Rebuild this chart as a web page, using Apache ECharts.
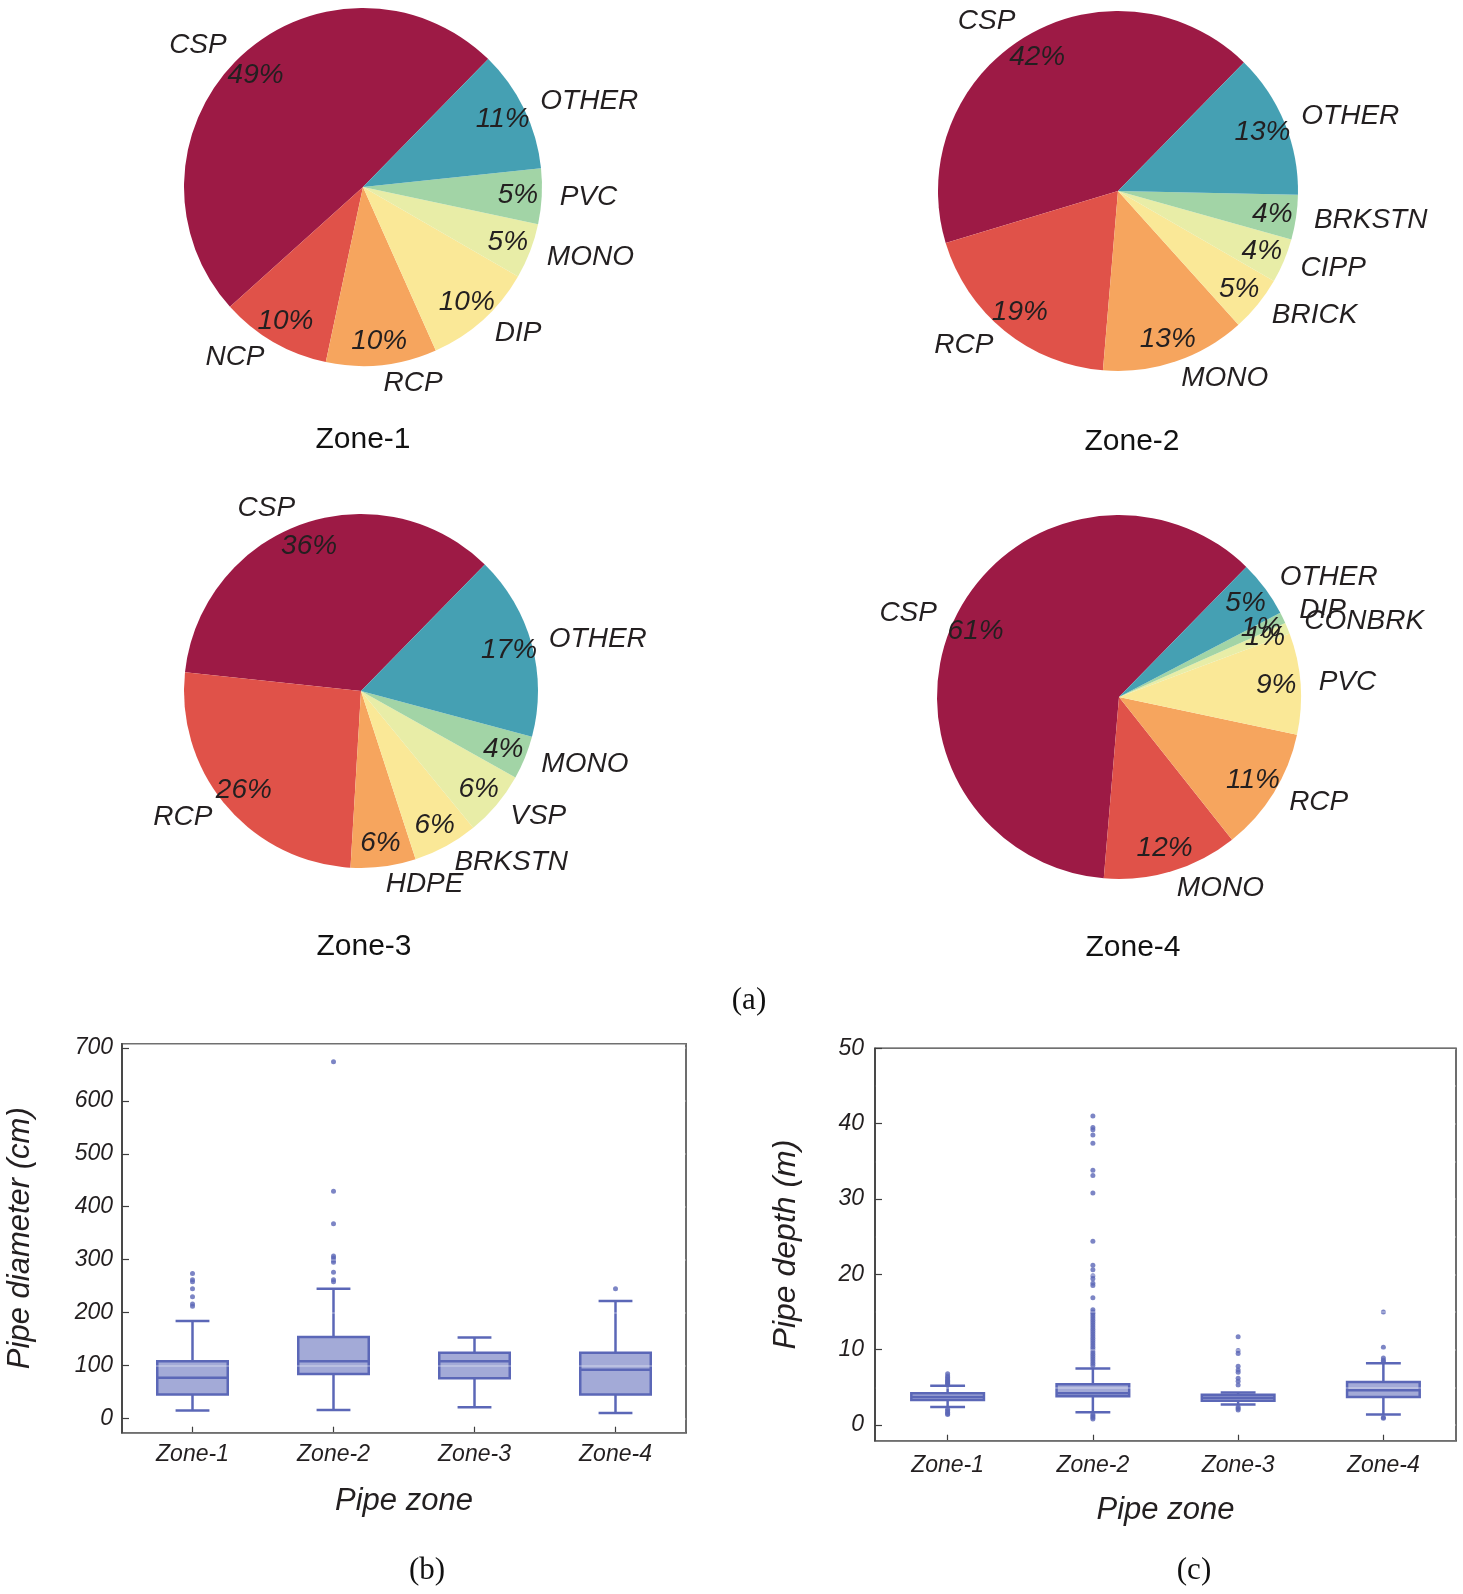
<!DOCTYPE html>
<html>
<head>
<meta charset="utf-8">
<script src="https://cdn.jsdelivr.net/npm/echarts@6/dist/echarts.min.js"></script>
<style>
  html, body { margin: 0; padding: 0; background: #ffffff; }
  #chart { width: 1463px; height: 1594px; }
</style>
</head>
<body>
<div id="chart"></div>
<script>
// ---------------- data ----------------
const pieColors = ['#9D1A45', '#E05249', '#F6A55E', '#FAE897', '#E8EDA7', '#A2D4A6', '#45A0B3'];

const zone1Names = ['CSP', 'NCP', 'RCP', 'DIP', 'MONO', 'PVC', 'OTHER'];
const zone1Pct   = [49, 10, 10, 10, 5, 5, 11];
const zone2Names = ['CSP', 'RCP', 'MONO', 'BRICK', 'CIPP', 'BRKSTN', 'OTHER'];
const zone2Pct   = [42, 19, 13, 5, 4, 4, 13];
const zone3Names = ['CSP', 'RCP', 'HDPE', 'BRKSTN', 'VSP', 'MONO', 'OTHER'];
const zone3Pct   = [36, 26, 6, 6, 6, 4, 17];
const zone4Names = ['CSP', 'MONO', 'RCP', 'PVC', 'CONBRK', 'DIP', 'OTHER'];
const zone4Pct   = [61, 12, 11, 9, 1, 1, 5];

const zoneTitles = ['Zone-1', 'Zone-2', 'Zone-3', 'Zone-4'];
const boxCategories = ['Zone-1', 'Zone-2', 'Zone-3', 'Zone-4'];

// [lower whisker, Q1, median, Q3, upper whisker]
const diameterStats = [
  [15, 45, 77, 108, 184],
  [16, 84, 108, 154, 245],
  [21, 76, 108, 124, 153],
  [10, 45, 92, 124, 222]
];
const diameterOutliers1 = [274, 262, 258, 245, 230, 216, 212];
const diameterOutliers2 = [674, 429, 368, 307, 303, 299, 295, 276, 262, 258];
const diameterOutliers3 = [];
const diameterOutliers4 = [245];

const depthStats = [
  [2.4, 3.3, 3.7, 4.2, 5.2],
  [1.7, 3.8, 4.2, 5.4, 7.5],
  [2.7, 3.2, 3.6, 4.0, 4.3],
  [1.4, 3.7, 4.6, 5.7, 8.2]
];
const depthOutliers1 = [6.8, 6.5, 6.3, 6.1, 5.9, 5.8, 5.6, 5.5, 5.3, 2.1, 1.9, 1.7, 1.5, 1.4];
const depthOutliers2 = [41.0, 39.5, 39.2, 38.5, 37.4, 33.8, 33.1, 30.8, 24.4, 21.2, 20.6, 19.8, 19.4, 18.8, 18.5, 16.9,
  15.3, 15.0, 14.8, 14.5, 14.2, 13.9, 13.6, 13.3, 13.0, 12.7, 12.4, 12.1, 11.8, 11.5, 11.2, 10.9, 10.6, 10.3, 10.0,
  9.7, 9.4, 9.1, 8.8, 8.5, 8.2, 7.9, 1.4, 1.2, 1.0, 0.8];
const depthOutliers3 = [11.7, 9.9, 9.5, 7.8, 7.3, 7.0, 6.2, 5.8, 5.3, 2.4, 2.2, 2.0];
const depthOutliers4 = [15.0, 10.3, 8.9, 8.6, 8.4, 1.0, 0.9];

// ---------------- styles ----------------
const TXT = '#231f20';
const FONT = '"Liberation Sans", Arial, Helvetica, sans-serif';
const SERIF = '"Liberation Serif", "Times New Roman", serif';
const BOX_STROKE = '#5B67B7';
const BOX_FILL = 'rgba(91,103,183,0.56)';
const FRAME = '#3e3e3e';

function pieSeries(center, R, names, pcts) {
  const data = names.map((n, i) => ({ name: n, value: pcts[i], itemStyle: { color: pieColors[i] } }));
  const ghost = names.map((n, i) => ({ name: n, value: pcts[i], itemStyle: { color: 'rgba(0,0,0,0)' } }));
  const labelFont = { fontFamily: FONT, fontStyle: 'italic', fontSize: 28, color: TXT };
  return [
    {
      type: 'pie', center: center, radius: [0, R], startAngle: 45.6, clockwise: false,
      avoidLabelOverlap: false, silent: true, animation: false,
      data: data,
      label: Object.assign({ show: true, position: 'outside', formatter: '{b}', distanceToLabelLine: 0 }, labelFont),
      labelLine: { show: false, length: R * 0.1, length2: 0 },
      labelLayout: { hideOverlap: false },
      emphasis: { disabled: true }
    },
    {
      type: 'pie', center: center, radius: [R * 0.7, R], startAngle: 45.6, clockwise: false,
      avoidLabelOverlap: false, silent: true, animation: false,
      data: ghost,
      label: Object.assign({ show: true, position: 'inside', formatter: '{c}%' }, labelFont),
      labelLine: { show: false },
      labelLayout: { hideOverlap: false },
      emphasis: { disabled: true }
    }
  ];
}

function boxRender(params, api) {
  const xi = api.value(0);
  const low = api.coord([xi, api.value(1)]);
  const q1 = api.coord([xi, api.value(2)]);
  const med = api.coord([xi, api.value(3)]);
  const q3 = api.coord([xi, api.value(4)]);
  const high = api.coord([xi, api.value(5)]);
  const band = api.size([1, 0])[0];
  const bw = band * 0.5;
  const cw = band * 0.24;
  const cx = low[0];
  const ls = { stroke: BOX_STROKE, lineWidth: 2.5, fill: null };
  return {
    type: 'group',
    children: [
      { type: 'line', shape: { x1: cx, y1: low[1], x2: cx, y2: q1[1] }, style: ls },
      { type: 'line', shape: { x1: cx, y1: q3[1], x2: cx, y2: high[1] }, style: ls },
      { type: 'line', shape: { x1: cx - cw / 2, y1: low[1], x2: cx + cw / 2, y2: low[1] }, style: ls },
      { type: 'line', shape: { x1: cx - cw / 2, y1: high[1], x2: cx + cw / 2, y2: high[1] }, style: ls },
      { type: 'rect', shape: { x: cx - bw / 2, y: q3[1], width: bw, height: q1[1] - q3[1] },
        style: { fill: BOX_FILL, stroke: BOX_STROKE, lineWidth: 2.5 } },
      { type: 'line', shape: { x1: cx - bw / 2, y1: med[1], x2: cx + bw / 2, y2: med[1] }, style: ls }
    ]
  };
}

function outlierData(lists) {
  const out = [];
  lists.forEach((arr, i) => arr.forEach(v => out.push([i, v])));
  return out;
}

const tickLabel = { fontFamily: FONT, fontStyle: 'italic', fontSize: 23, color: TXT };
const axisName = { fontFamily: FONT, fontStyle: 'italic', color: TXT };

function xAxisFor(gridIndex, nameGap, labelMargin) {
  return {
    type: 'category', gridIndex: gridIndex, data: boxCategories, boundaryGap: true,
    name: 'Pipe zone', nameLocation: 'middle', nameGap: nameGap,
    nameTextStyle: Object.assign({ fontSize: 31 }, axisName),
    axisLine: { show: true, onZero: false, lineStyle: { color: FRAME, width: 1.5 } },
    axisTick: { show: true, inside: true, alignWithLabel: true, length: 6, lineStyle: { color: FRAME, width: 1.2 } },
    axisLabel: Object.assign({ margin: labelMargin }, tickLabel),
    splitLine: { show: false }
  };
}

const chart = echarts.init(document.getElementById('chart'), null, { renderer: 'canvas' });

const option = {
  backgroundColor: '#ffffff',
  animation: false,
  grid: [
    { left: 122, right: 777, top: 1043.7, bottom: 161.3, show: true, borderColor: FRAME, borderWidth: 1.5, backgroundColor: 'rgba(0,0,0,0)' },
    { left: 875, right: 7, top: 1048.3, bottom: 153.3, show: true, borderColor: FRAME, borderWidth: 1.5, backgroundColor: 'rgba(0,0,0,0)' }
  ],
  xAxis: [ xAxisFor(0, 53, 10), xAxisFor(1, 54, 13) ],
  yAxis: [
    {
      type: 'value', gridIndex: 0, min: -27, max: 708, splitNumber: 7, z: 3,
      name: 'Pipe diameter (cm)', nameLocation: 'middle', nameGap: 86,
      nameTextStyle: Object.assign({ fontSize: 31 }, axisName),
      axisLine: { show: true, lineStyle: { color: FRAME, width: 1.5 } },
      axisTick: { show: true, inside: true, length: 7, lineStyle: { color: FRAME, width: 1.2 } },
      axisLabel: Object.assign({ margin: 9, showMinLabel: false, showMaxLabel: false }, tickLabel),
      splitLine: { show: true, lineStyle: { color: 'rgba(255,255,255,0.35)', width: 1.5 } }
    },
    {
      type: 'value', gridIndex: 1, min: -2.09, max: 50, splitNumber: 5, z: 3,
      name: 'Pipe depth (m)', nameLocation: 'middle', nameGap: 73,
      nameTextStyle: Object.assign({ fontSize: 32 }, axisName),
      axisLine: { show: true, lineStyle: { color: FRAME, width: 1.5 } },
      axisTick: { show: true, inside: true, length: 7, lineStyle: { color: FRAME, width: 1.2 } },
      axisLabel: Object.assign({ margin: 11, showMinLabel: false }, tickLabel),
      splitLine: { show: true, lineStyle: { color: 'rgba(255,255,255,0.35)', width: 1.5 } },
      minorTick: { show: false, splitNumber: 2 },
      minorSplitLine: { show: true, lineStyle: { color: 'rgba(255,255,255,0.35)', width: 1.5 } }
    }
  ],
  series: [
    ...pieSeries([363, 187], 179, zone1Names, zone1Pct),
    ...pieSeries([1118, 191], 180, zone2Names, zone2Pct),
    ...pieSeries([361, 691], 177, zone3Names, zone3Pct),
    ...pieSeries([1119, 697], 182, zone4Names, zone4Pct),
    {
      type: 'custom', xAxisIndex: 0, yAxisIndex: 0, renderItem: boxRender, silent: true,
      encode: { x: 0, y: [1, 2, 3, 4, 5] },
      data: diameterStats.map((s, i) => [i].concat(s))
    },
    {
      type: 'scatter', xAxisIndex: 0, yAxisIndex: 0, symbol: 'circle', symbolSize: 5, silent: true,
      itemStyle: { color: BOX_STROKE },
      data: outlierData([diameterOutliers1, diameterOutliers2, diameterOutliers3, diameterOutliers4])
    },
    {
      type: 'custom', xAxisIndex: 1, yAxisIndex: 1, renderItem: boxRender, silent: true,
      encode: { x: 0, y: [1, 2, 3, 4, 5] },
      data: depthStats.map((s, i) => [i].concat(s))
    },
    {
      type: 'scatter', xAxisIndex: 1, yAxisIndex: 1, symbol: 'circle', symbolSize: 5, silent: true,
      itemStyle: { color: BOX_STROKE },
      data: outlierData([depthOutliers1, depthOutliers2, depthOutliers3, depthOutliers4])
    }
  ],
  graphic: [
    { type: 'text', x: 363, y: 440, style: { text: zoneTitles[0], font: '30px ' + FONT, fill: '#111', align: 'center', verticalAlign: 'middle', textAlign: 'center', textVerticalAlign: 'middle' } },
    { type: 'text', x: 1132, y: 442, style: { text: zoneTitles[1], font: '30px ' + FONT, fill: '#111', align: 'center', verticalAlign: 'middle', textAlign: 'center', textVerticalAlign: 'middle' } },
    { type: 'text', x: 364, y: 947, style: { text: zoneTitles[2], font: '30px ' + FONT, fill: '#111', align: 'center', verticalAlign: 'middle', textAlign: 'center', textVerticalAlign: 'middle' } },
    { type: 'text', x: 1133, y: 948, style: { text: zoneTitles[3], font: '30px ' + FONT, fill: '#111', align: 'center', verticalAlign: 'middle', textAlign: 'center', textVerticalAlign: 'middle' } },
    { type: 'text', x: 749, y: 1001, style: { text: '(a)', font: '31px ' + SERIF, fill: '#111', align: 'center', verticalAlign: 'middle', textAlign: 'center', textVerticalAlign: 'middle' } },
    { type: 'text', x: 427, y: 1571, style: { text: '(b)', font: '31px ' + SERIF, fill: '#111', align: 'center', verticalAlign: 'middle', textAlign: 'center', textVerticalAlign: 'middle' } },
    { type: 'text', x: 1194, y: 1571, style: { text: '(c)', font: '31px ' + SERIF, fill: '#111', align: 'center', verticalAlign: 'middle', textAlign: 'center', textVerticalAlign: 'middle' } }
  ]
};

chart.setOption(option);
</script>
</body>
</html>
